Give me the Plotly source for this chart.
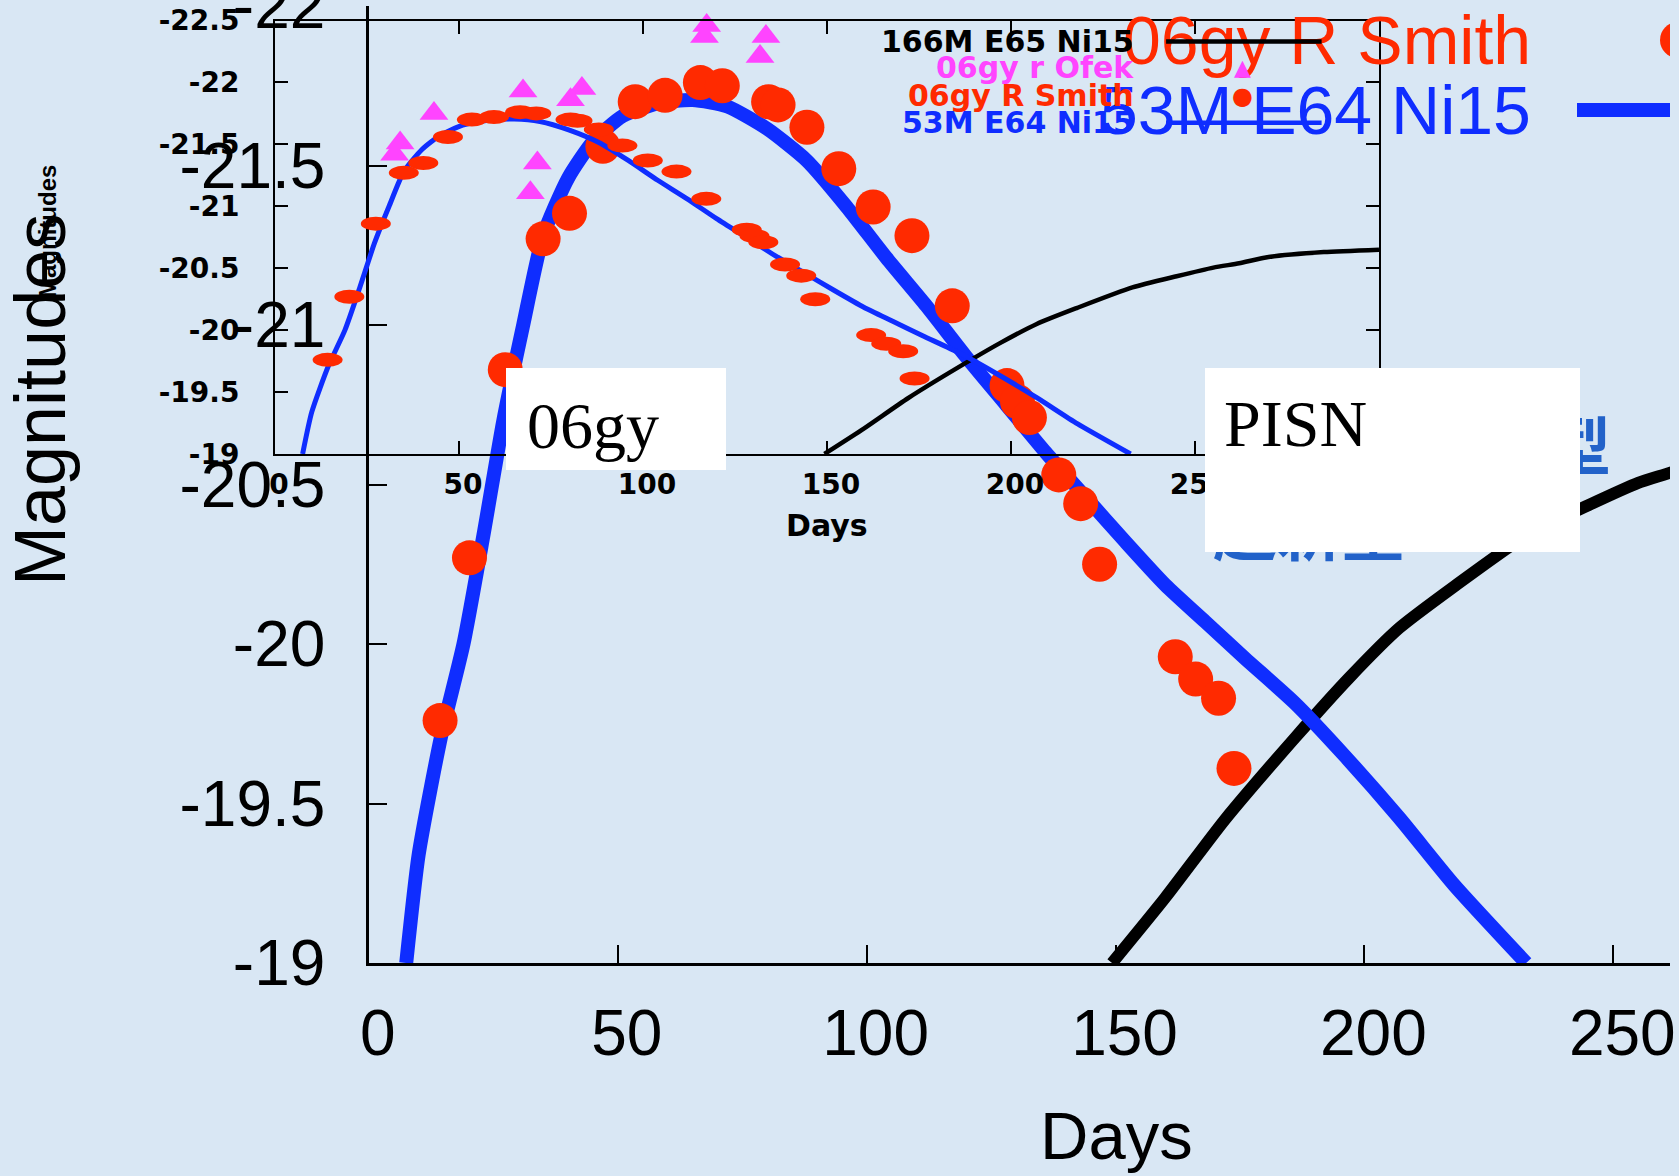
import plotly.graph_objects as go

W, H = 1679, 1176
BG = '#d9e7f4'
RED = '#ff2a00'
BLUE = '#0f2dff'
MAGENTA = '#ff44ff'
BLACK = '#000000'
SANS = 'Liberation Sans, Arial, sans-serif'
BOLD = 'DejaVu Sans, sans-serif'
SERIF = 'Liberation Serif, Times New Roman, serif'
CJK = 'Noto Sans CJK JP, sans-serif'

# ---------------- data ----------------
model53_name = '53M E64 Ni15'
model53_day = [7.5, 10, 14.5, 19, 23, 27, 31, 35, 40, 45, 51, 58, 65, 72, 80, 88, 96,
               104, 112, 120, 128, 136, 144, 152, 160, 168, 176, 186, 196, 207, 218, 232.5]
model53_mag = [-19.0, -19.34, -19.71, -20.0, -20.34, -20.70, -21.0, -21.28, -21.46, -21.575,
               -21.655, -21.695, -21.705, -21.685, -21.615, -21.515, -21.37, -21.21, -21.06,
               -20.90, -20.75, -20.60, -20.46, -20.32, -20.185, -20.07, -19.955, -19.815,
               -19.65, -19.455, -19.245, -19.0]

model166_name = '166M E65 Ni15'
model166_day = [149.3, 160, 172, 186, 197, 207, 218, 233, 245, 255, 262, 270, 285, 300]
model166_mag = [-19.0, -19.205, -19.45, -19.705, -19.895, -20.05, -20.18, -20.345, -20.435,
                -20.505, -20.54, -20.59, -20.63, -20.65]

smith_name = '06gy R Smith'
smith_day = [14.3, 20.2, 27.4, 35.0, 40.3, 47.0, 53.5, 59.5, 66.6, 71.0, 80.3, 82.2, 88.0,
             94.4, 101.3, 109.1, 117.2, 128.2, 130.3, 132.7, 138.6, 143.0, 146.8, 162.0,
             166.1, 170.7, 173.8]
smith_mag = [-19.76, -20.27, -20.86, -21.27, -21.35, -21.56, -21.70, -21.72, -21.76, -21.75,
             -21.70, -21.69, -21.62, -21.49, -21.37, -21.28, -21.06, -20.81, -20.76, -20.71,
             -20.53, -20.44, -20.25, -19.96, -19.89, -19.83, -19.61]

ofek_name = '06gy r Ofek'
ofek_day = [32.5, 34.0, 43.2, 67.4, 69.4, 71.3, 80.3, 83.4, 116.7, 117.3, 131.8, 133.4]
ofek_mag = [-21.42, -21.51, -21.75, -21.93, -21.11, -21.35, -21.86, -21.95, -22.37, -22.46,
            -22.21, -22.37]

main_xticks = [0, 50, 100, 150, 200, 250]
main_xtext = ['0', '50', '100', '150', '200', '250']
main_yticks = [-19, -19.5, -20, -20.5, -21, -21.5, -22]
main_ytext = ['-19', '-19.5', '-20', '-20.5', '-21', '-21.5', '-22']
inset_xticks = [0, 50, 100, 150, 200, 250, 300]
inset_xtext = ['0', '50', '100', '150', '200', '250', '300']
inset_yticks = [-19, -19.5, -20, -20.5, -21, -21.5, -22, -22.5]
inset_ytext = ['-19', '-19.5', '-20', '-20.5', '-21', '-21.5', '-22', '-22.5']

x_title = 'Days'
y_title = 'Magnitudes'
box_labels = ['06gy', 'PISN']
jp_lines = ['対不安定型', '超新星']

# ---------------- helpers (pixel -> paper) ----------------
def px(x):
    return x / W


def py(y):
    return 1 - y / H


MAIN_X0, MAIN_DAYPX = 368.9, 4.9775
MAIN_Y19, MAIN_MAGPX = 963.0, 319.0


def main_day(xp):
    return (xp - MAIN_X0) / MAIN_DAYPX


def main_mag(yp):
    return -19 - (MAIN_Y19 - yp) / MAIN_MAGPX


fig = go.Figure()

# main (large) chart
fig.add_trace(go.Scatter(x=model166_day, y=model166_mag, mode='lines', name=model166_name,
                         line=dict(color=BLACK, width=12, shape='spline', smoothing=0.6),
                         xaxis='x', yaxis='y'))
fig.add_trace(go.Scatter(x=model53_day, y=model53_mag, mode='lines', name=model53_name,
                         line=dict(color=BLUE, width=14, shape='spline', smoothing=0.6),
                         xaxis='x', yaxis='y'))
fig.add_trace(go.Scatter(x=smith_day, y=smith_mag, mode='markers', name=smith_name,
                         marker=dict(color=RED, size=35, line=dict(width=0)),
                         xaxis='x', yaxis='y'))

# inset chart
fig.add_trace(go.Scatter(x=model166_day, y=model166_mag, mode='lines', name=model166_name,
                         line=dict(color=BLACK, width=4.5, shape='spline', smoothing=0.6),
                         xaxis='x2', yaxis='y2'))
fig.add_trace(go.Scatter(x=model53_day, y=model53_mag, mode='lines', name=model53_name,
                         line=dict(color=BLUE, width=5, shape='spline', smoothing=0.6),
                         xaxis='x2', yaxis='y2'))
fig.add_trace(go.Scatter(x=ofek_day, y=ofek_mag, mode='markers', name=ofek_name,
                         marker=dict(color=MAGENTA, size=25, symbol='triangle-up',
                                     line=dict(width=0)),
                         cliponaxis=False, xaxis='x2', yaxis='y2'))

shapes = []
# inset Smith points: flattened ellipses anchored at data values
for d, m in zip(smith_day, smith_mag):
    shapes.append(dict(type='circle', xref='x2', yref='y2', xsizemode='pixel',
                       ysizemode='pixel', xanchor=d, yanchor=m, x0=-15, x1=15, y0=-7, y1=7,
                       fillcolor=RED, line=dict(width=0), layer='above'))
# main legend swatches (clipped by main plot area)
shapes.append(dict(type='circle', xref='x', yref='y', xsizemode='pixel', ysizemode='pixel',
                   xanchor=main_day(1678), yanchor=main_mag(40), x0=-18, x1=18, y0=-18,
                   y1=18, fillcolor=RED, line=dict(width=0), layer='above'))
shapes.append(dict(type='line', xref='paper', yref='paper', x0=px(1577), x1=px(1670),
                   y0=py(110), y1=py(110), line=dict(color=BLUE, width=14), layer='above'))

axis_common = dict(showgrid=False, zeroline=False, showline=True, linecolor=BLACK,
                   ticks='inside', tickcolor=BLACK, tickmode='array', automargin=False)

fig.update_layout(
    template='none',
    width=W, height=H,
    margin=dict(l=0, r=0, t=0, b=0, pad=0, autoexpand=False),
    paper_bgcolor=BG, plot_bgcolor='rgba(0,0,0,0)',
    showlegend=False,
    xaxis=dict(axis_common, domain=[px(MAIN_X0), px(1670)],
               range=[0, main_day(1670)], anchor='y', linewidth=2.5, ticklen=18,
               tickwidth=2, tickvals=main_xticks, ticktext=main_xtext,
               tickfont=dict(family=SANS, size=64, color=BLACK),
               ticklabelstandoff=12, ticklabelshift=9, ticklabeloverflow='allow'),
    yaxis=dict(axis_common, domain=[py(963), py(6)], range=[-19, -22], anchor='x',
               linewidth=2.5, ticklen=18, tickwidth=2, tickvals=main_yticks,
               ticktext=main_ytext, tickfont=dict(family=SANS, size=64, color=BLACK),
               ticklabelstandoff=28, ticklabeloverflow='allow'),
    xaxis2=dict(axis_common, domain=[px(275), px(1379)], range=[0, 300], anchor='y2',
                mirror='ticks', linewidth=2, ticklen=13, tickwidth=2,
                tickvals=inset_xticks, ticktext=inset_xtext,
                tickfont=dict(family=BOLD, size=28, color=BLACK, weight='bold'),
                ticklabelstandoff=4, ticklabelshift=4),
    yaxis2=dict(axis_common, domain=[py(454), py(20.5)], range=[-19, -22.5], anchor='x2',
                mirror='ticks', linewidth=2, ticklen=13, tickwidth=2,
                tickvals=inset_yticks, ticktext=inset_ytext,
                tickfont=dict(family=BOLD, size=28, color=BLACK, weight='bold'),
                ticklabelstandoff=28, ticklabeloverflow='allow'),
    shapes=shapes,
)


def ann(text, x, y, size, color=BLACK, family=SANS, xanchor='center', yanchor='middle',
        angle=0, weight='normal'):
    return dict(text=text, x=px(x), y=py(y), xref='paper', yref='paper', showarrow=False,
                xanchor=xanchor, yanchor=yanchor, textangle=angle, borderpad=0,
                font=dict(size=size, color=color, family=family, weight=weight))


def seg(x0, x1, y, color, width):
    return dict(text='', x=px(x1), y=py(y), ax=x0 - x1, ay=0, xref='paper',
                yref='paper', axref='pixel', ayref='pixel', showarrow=True, arrowhead=0,
                arrowwidth=width, arrowcolor=color, standoff=0, startstandoff=0)


annotations = [
    ann(y_title, 40, 400, 72, angle=-90),
    ann(y_title, 47, 232, 24, family=SANS, angle=-90, weight='bold'),
    ann(x_title, 1116, 1135, 67),
    ann(x_title, 827, 525, 30, family=BOLD, weight='bold'),
    # hidden Japanese caption (mostly covered by the PISN box)
    ann(jp_lines[0], 1612, 442, 64, color='#2262c9', family=CJK, xanchor='right',
        weight='bold'),
    ann(jp_lines[1], 1212, 527, 64, color='#2262c9', family=CJK, xanchor='left',
        weight='bold'),
    # main legend
    ann(smith_name, 1532, 40, 68, color=RED, xanchor='right'),
    ann(model53_name, 1532, 110, 68, color=BLUE, xanchor='right'),
    # inset legend
    ann(model166_name, 1135, 42, 30, color=BLACK, family=BOLD, xanchor='right',
        weight='bold'),
    ann(ofek_name, 1135, 68, 30, color=MAGENTA, family=BOLD, xanchor='right',
        weight='bold'),
    ann(smith_name, 1135, 96, 30, color=RED, family=BOLD, xanchor='right', weight='bold'),
    ann(model53_name, 1135, 123, 30, color=BLUE, family=BOLD, xanchor='right',
        weight='bold'),
    seg(1164.6, 1321.6, 41.5, BLACK, 4.5),
    seg(1164.6, 1321.6, 122.7, BLUE, 4.5),
    ann('▲', 1242, 68, 22, color=MAGENTA, family=BOLD),
    ann('●', 1242, 96, 24, color=RED, family=BOLD),
    # white boxes with labels
    dict(text=' ', x=px(505.5), y=py(368), xref='paper', yref='paper', showarrow=False,
         xanchor='left', yanchor='top', width=219.5, height=102, bgcolor='white',
         borderpad=0, borderwidth=0),
    dict(text=' ', x=px(1204.5), y=py(368), xref='paper', yref='paper', showarrow=False,
         xanchor='left', yanchor='top', width=374.5, height=184, bgcolor='white',
         borderpad=0, borderwidth=0),
    ann(box_labels[0], 526, 425, 66, family=SERIF, xanchor='left'),
    ann(box_labels[1], 1223, 424, 66, family=SERIF, xanchor='left'),
]
fig.update_layout(annotations=annotations)

fig.write_html('out.html')
